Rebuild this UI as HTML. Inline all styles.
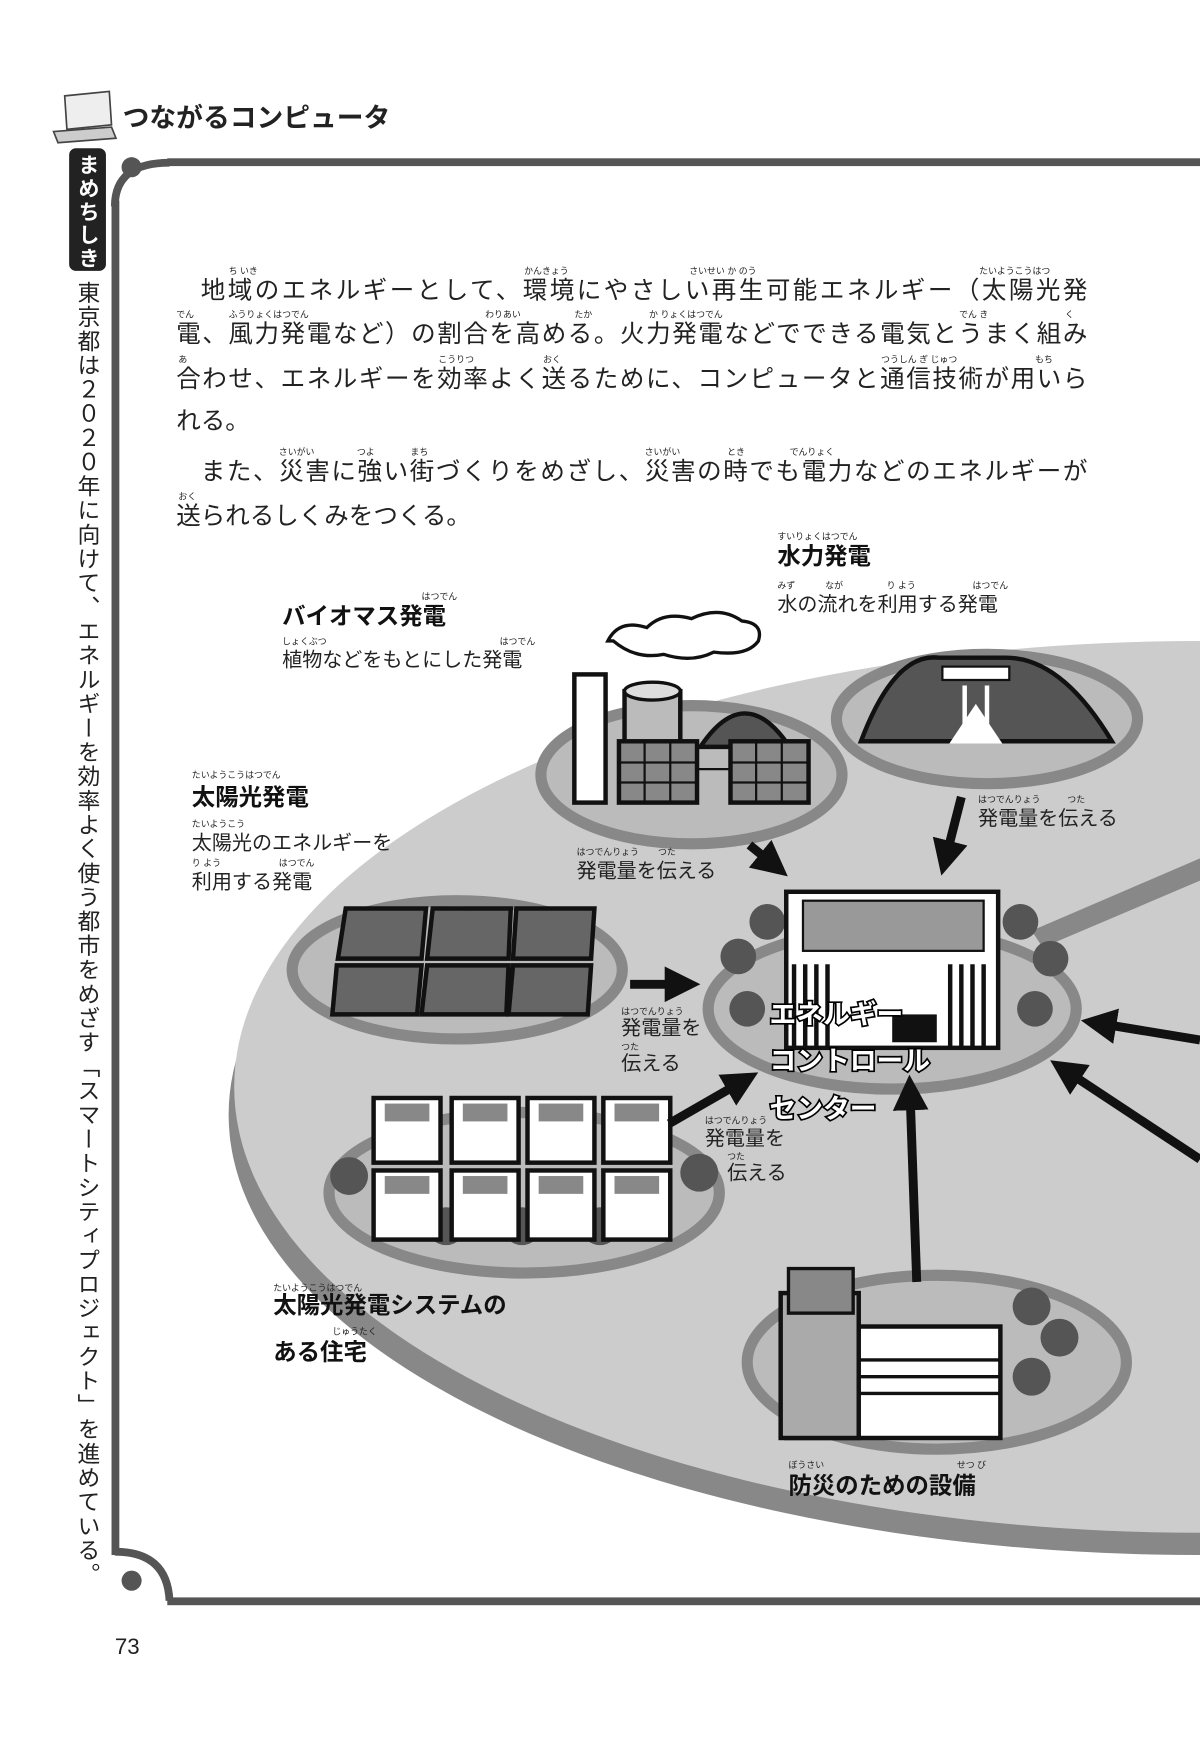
<!DOCTYPE html>
<html><head><meta charset="utf-8"><style>
html,body{margin:0;padding:0;background:#fff;}
svg{display:block;}
text{font-family:"Liberation Sans","Noto Sans CJK JP",sans-serif;}
.p{font-size:22px;fill:#222;}
.r{font-size:8px;fill:#222;}
.b{font-size:21px;font-weight:bold;fill:#111;}
.s{font-size:18px;fill:#222;}
.w{font-size:24px;font-weight:bold;fill:#fff;stroke:#000;stroke-width:3px;paint-order:stroke;}
</style></head><body>
<svg width="1200" height="1749" viewBox="0 0 1076 1569" preserveAspectRatio="none" xmlns="http://www.w3.org/2000/svg">
<!-- header -->
<g stroke="#444" stroke-width="1.5" fill="#eee">
<polygon points="58,86 98,82 100,112 60,116"/>
<polygon points="48,118 100,114 104,124 52,128" fill="#ccc"/>
</g>
<text x="110" y="114" style="font-size:24px;font-weight:bold;fill:#222">つながるコンピュータ</text>
<!-- side tag -->
<rect x="62" y="133" width="33" height="110" rx="6" fill="#222"/>
<text x="78" y="138" style="font-size:19px;font-weight:bold;fill:#fff;writing-mode:vertical-rl;letter-spacing:2px">まめちしき</text>
<text x="78" y="252" style="font-size:20.5px;fill:#222;writing-mode:vertical-rl;letter-spacing:1.2px">東京都は２０２０年に向けて、エネルギーを効率よく使う都市をめざす「スマートシティプロジェクト」を進めている。</text>
<!-- frame -->
<g fill="#555">
<rect x="100" y="180" width="7" height="1215"/>
<rect x="150" y="142" width="926" height="7"/>
<rect x="150" y="1433" width="926" height="7"/>
<circle cx="118" cy="150" r="9"/>
<circle cx="118" cy="1418" r="9"/>
</g>
<path d="M103,185 Q103,146 152,146" fill="none" stroke="#555" stroke-width="7"/>
<path d="M103,1392 Q150,1392 152,1436" fill="none" stroke="#555" stroke-width="7"/>
<!-- paragraph -->
<g class="r">
<text x="205" y="246">ち いき</text><text x="470" y="246">かんきょう</text><text x="618" y="246">さいせい か のう</text><text x="878" y="246">たいようこうはつ</text>
<text x="158" y="285">でん</text><text x="205" y="285">ふうりょくはつでん</text><text x="435" y="285">わりあい</text><text x="515" y="285">たか</text><text x="582" y="285">か りょくはつでん</text><text x="860" y="285">でん き</text><text x="955" y="285">く</text>
<text x="160" y="325">あ</text><text x="393" y="325">こうりつ</text><text x="487" y="325">おく</text><text x="790" y="325">つうしん ぎ じゅつ</text><text x="928" y="325">もち</text>
<text x="250" y="408">さいがい</text><text x="320" y="408">つよ</text><text x="368" y="408">まち</text><text x="578" y="408">さいがい</text><text x="652" y="408">とき</text><text x="708" y="408">でんりょく</text>
<text x="160" y="448">おく</text>
</g>
<g class="p">
<text x="180" y="268" textLength="795">地域のエネルギーとして、環境にやさしい再生可能エネルギー（太陽光発</text>
<text x="158" y="307" textLength="817">電、風力発電など）の割合を高める。火力発電などでできる電気とうまく組み</text>
<text x="158" y="347" textLength="817">合わせ、エネルギーを効率よく送るために、コンピュータと通信技術が用いら</text>
<text x="158" y="385">れる。</text>
<text x="180" y="430" textLength="795">また、災害に強い街づくりをめざし、災害の時でも電力などのエネルギーが</text>
<text x="158" y="470">送られるしくみをつくる。</text>
</g>
<!-- big ellipse -->
<ellipse cx="1075" cy="1000" rx="870" ry="395" fill="#888"/>
<ellipse cx="1075" cy="975" rx="865" ry="400" fill="#ccc"/>
<path d="M925,835 L1076,770 L1076,790 L935,850 Z" fill="#888"/>
<!-- sub ellipses -->
<g fill="#bbb" stroke="#888" stroke-width="10">
<ellipse cx="620" cy="695" rx="135" ry="62"/>
<ellipse cx="885" cy="645" rx="135" ry="58"/>
<ellipse cx="800" cy="905" rx="165" ry="72"/>
<ellipse cx="410" cy="870" rx="148" ry="62"/>
<ellipse cx="470" cy="1070" rx="175" ry="72"/>
<ellipse cx="840" cy="1222" rx="170" ry="78"/>
</g>
<!-- biomass -->
<path d="M545,575 q10,-20 35,-12 q15,-15 40,-8 q25,-12 45,2 q20,2 15,18 q-10,14 -40,10 q-20,10 -45,2 q-25,5 -45,-12z" fill="#fff" stroke="#111" stroke-width="3"/>
<rect x="515" y="605" width="28" height="115" fill="#fff" stroke="#111" stroke-width="4"/>
<rect x="560" y="620" width="50" height="50" fill="#bbb" stroke="#111" stroke-width="4"/>
<ellipse cx="585" cy="620" rx="25" ry="8" fill="#ddd" stroke="#111" stroke-width="3"/>
<path d="M628,670 q40,-60 80,0z" fill="#555" stroke="#111" stroke-width="4"/>
<rect x="555" y="665" width="70" height="55" fill="#888" stroke="#111" stroke-width="4"/>
<rect x="655" y="665" width="70" height="55" fill="#888" stroke="#111" stroke-width="4"/>
<path d="M555,684h70M555,702h70M578,665v55M601,665v55M655,684h70M655,702h70M678,665v55M701,665v55M625,690h30" stroke="#111" stroke-width="2"/>
<!-- hydro -->
<path d="M772,665 q30,-80 70,-75 l60,0 q50,0 95,75z" fill="#555" stroke="#111" stroke-width="4"/>
<rect x="845" y="598" width="60" height="12" fill="#fff" stroke="#111" stroke-width="2"/>
<path d="M865,615 v35 M885,615 v35 M855,665 l20,-30 l20,30z" stroke="#fff" stroke-width="4" fill="#fff"/>
<!-- control center -->
<g fill="#555"><circle cx="688" cy="827" r="16"/><circle cx="662" cy="858" r="16"/><circle cx="670" cy="905" r="16"/><circle cx="915" cy="827" r="16"/><circle cx="942" cy="860" r="16"/><circle cx="928" cy="905" r="16"/></g>
<rect x="705" y="800" width="190" height="140" fill="#fff" stroke="#111" stroke-width="4"/>
<rect x="720" y="808" width="162" height="45" fill="#999" stroke="#111" stroke-width="2"/>
<path d="M712,865 v75 M722,865 v75 M732,865 v75 M742,865 v75 M852,865 v75 M862,865 v75 M872,865 v75 M882,865 v75" stroke="#111" stroke-width="4"/>
<rect x="800" y="910" width="40" height="25" fill="#111"/>
<text x="690" y="918" class="w">エネルギー</text>
<text x="690" y="960" class="w">コントロール</text>
<text x="690" y="1003" class="w">センター</text>
<!-- solar -->
<g fill="#666" stroke="#111" stroke-width="4">
<polygon points="310,815 382,815 378,860 303,860"/><polygon points="388,815 458,815 456,860 383,860"/><polygon points="463,815 533,815 530,860 460,860"/>
<polygon points="302,866 378,866 374,910 298,910"/><polygon points="383,866 456,866 454,910 378,910"/><polygon points="460,866 530,866 527,910 456,910"/>
</g>
<!-- houses -->
<g fill="#555"><circle cx="313" cy="1055" r="17"/><circle cx="627" cy="1052" r="17"/><circle cx="400" cy="1100" r="17"/><circle cx="468" cy="1100" r="17"/><circle cx="538" cy="1100" r="17"/></g>
<g fill="#fff" stroke="#111" stroke-width="4">
<rect x="335" y="985" width="60" height="58"/><rect x="405" y="985" width="60" height="58"/><rect x="473" y="985" width="60" height="58"/><rect x="541" y="985" width="60" height="58"/>
<rect x="335" y="1050" width="60" height="62"/><rect x="405" y="1050" width="60" height="62"/><rect x="473" y="1050" width="60" height="62"/><rect x="541" y="1050" width="60" height="62"/>
</g>
<g fill="#888"><rect x="345" y="990" width="40" height="16"/><rect x="415" y="990" width="40" height="16"/><rect x="483" y="990" width="40" height="16"/><rect x="551" y="990" width="40" height="16"/>
<rect x="345" y="1055" width="40" height="16"/><rect x="415" y="1055" width="40" height="16"/><rect x="483" y="1055" width="40" height="16"/><rect x="551" y="1055" width="40" height="16"/></g>
<!-- disaster -->
<g fill="#555"><circle cx="925" cy="1172" r="17"/><circle cx="950" cy="1200" r="17"/><circle cx="925" cy="1235" r="17"/></g>
<rect x="705" y="1190" width="192" height="100" fill="#fff" stroke="#111" stroke-width="4"/>
<rect x="700" y="1160" width="70" height="130" fill="#aaa" stroke="#111" stroke-width="4"/>
<rect x="707" y="1138" width="58" height="40" fill="#888" stroke="#111" stroke-width="3"/>
<path d="M770,1220h127M770,1235h127M770,1250h127" stroke="#111" stroke-width="3"/>
<!-- arrows -->
<defs><marker id="a" markerWidth="4" markerHeight="4" refX="2" refY="2" orient="auto"><path d="M0,0L4,2L0,4z" fill="#111"/></marker></defs>
<g stroke="#111" stroke-width="8" marker-end="url(#a)">
<line x1="672" y1="758" x2="694" y2="776"/>
<line x1="862" y1="715" x2="848" y2="770"/>
<line x1="565" y1="883" x2="612" y2="883"/>
<line x1="600" y1="1008" x2="666" y2="970"/>
<line x1="822" y1="1150" x2="816" y2="980"/>
<line x1="1076" y1="933" x2="985" y2="918"/>
<line x1="1076" y1="1040" x2="955" y2="960"/>
</g>
<!-- labels -->
<g class="r">
<text x="697" y="484">すいりょくはつでん</text><text x="697" y="528">みず</text><text x="740" y="528">なが</text><text x="795" y="528">り よう</text><text x="872" y="528">はつでん</text>
<text x="378" y="538">はつでん</text><text x="253" y="578">しょくぶつ</text><text x="448" y="578">はつでん</text>
<text x="172" y="698">たいようこうはつでん</text><text x="172" y="742">たいようこう</text><text x="172" y="777">り よう</text><text x="250" y="777">はつでん</text>
<text x="517" y="767">はつでんりょう</text><text x="590" y="767">つた</text><text x="877" y="720">はつでんりょう</text><text x="957" y="720">つた</text>
<text x="557" y="910">はつでんりょう</text><text x="557" y="942">つた</text><text x="632" y="1008">はつでんりょう</text><text x="652" y="1040">つた</text>
<text x="245" y="1158">たいようこうはつでん</text><text x="298" y="1197">じゅうたく</text><text x="707" y="1317">ぼうさい</text><text x="858" y="1317">せつ び</text>
</g>
<text x="697" y="506" class="b">水力発電</text>
<text x="697" y="548" class="s">水の流れを利用する発電</text>
<text x="253" y="560" class="b">バイオマス発電</text>
<text x="253" y="598" class="s">植物などをもとにした発電</text>
<text x="172" y="722" class="b">太陽光発電</text>
<text x="172" y="762" class="s">太陽光のエネルギーを</text>
<text x="172" y="797" class="s">利用する発電</text>
<text x="517" y="787" class="s">発電量を伝える</text>
<text x="877" y="740" class="s">発電量を伝える</text>
<text x="557" y="928" class="s">発電量を</text>
<text x="557" y="960" class="s">伝える</text>
<text x="632" y="1027" class="s">発電量を</text>
<text x="652" y="1058" class="s">伝える</text>
<text x="245" y="1178" class="b">太陽光発電システムの</text>
<text x="245" y="1220" class="b">ある住宅</text>
<text x="707" y="1340" class="b">防災のための設備</text>
<text x="103" y="1484" style="font-size:20px;fill:#222">73</text>
</svg>
</body></html>
